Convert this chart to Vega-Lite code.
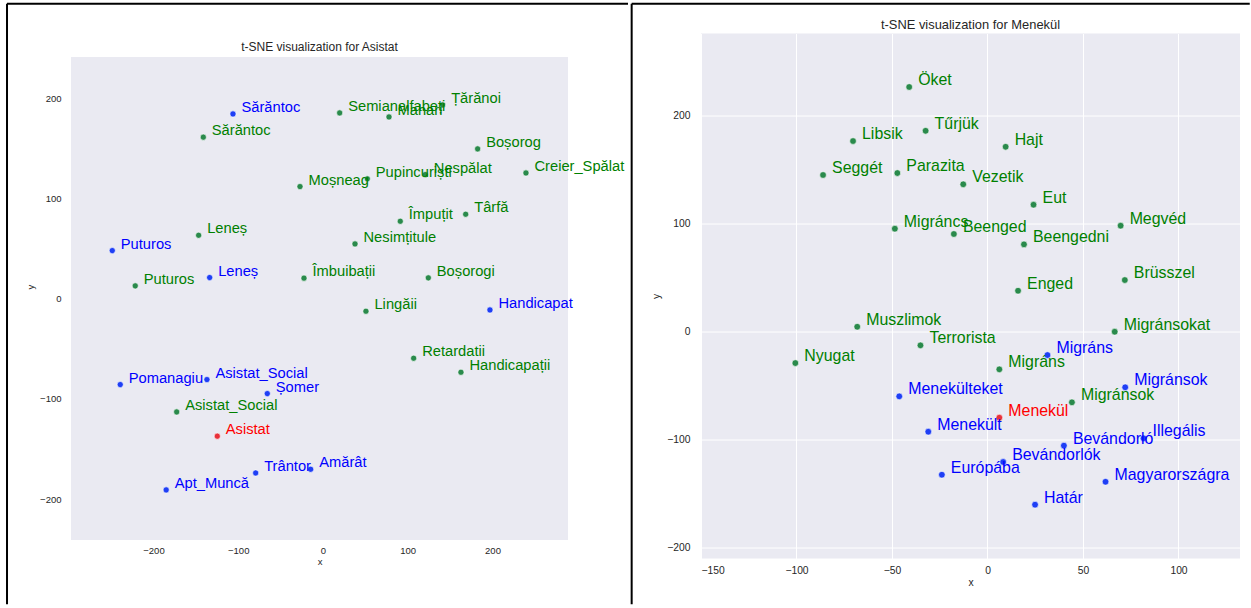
{
  "$schema": "https://vega.github.io/schema/vega-lite/v6.json",
  "background": "white",
  "padding": {"left": 6, "top": 2.5, "right": 0, "bottom": 0},
  "spacing": 0,
  "config": {
    "view": {"fill": "#EAEAF2", "stroke": null},
    "font": "Liberation Sans",
    "axis": {"domain": false, "ticks": false, "gridColor": "white", "gridWidth": 1, "labelColor": "#262626", "titleColor": "#262626", "titleFontWeight": "normal", "labelFont": "Liberation Sans", "titleFont": "Liberation Sans"}
  },
  "datasets": {
    "asistat": [
      {"label": "Sărăntoc", "group": "blue", "x": -106.2, "y": 184.3},
      {"label": "Semianalfabeți", "group": "green", "x": 19.7, "y": 185.3},
      {"label": "Mahari", "group": "green", "x": 77.9, "y": 181.3},
      {"label": "Țărănoi", "group": "green", "x": 141.2, "y": 193.3},
      {"label": "Sărăntoc", "group": "green", "x": -141.2, "y": 161.1},
      {"label": "Boșorog", "group": "green", "x": 182.5, "y": 149.4},
      {"label": "Moșneag", "group": "green", "x": -27.1, "y": 111.8},
      {"label": "Pupincuriști", "group": "green", "x": 52.3, "y": 119.5},
      {"label": "Nespălat", "group": "green", "x": 120.7, "y": 123.8},
      {"label": "Creier_Spălat", "group": "green", "x": 239.5, "y": 125.4},
      {"label": "Împuțit", "group": "green", "x": 91.2, "y": 77.2},
      {"label": "Târfă", "group": "green", "x": 168.4, "y": 84.2},
      {"label": "Leneș", "group": "green", "x": -146.7, "y": 63.2},
      {"label": "Nesimțitule", "group": "green", "x": 37.8, "y": 54.6},
      {"label": "Puturos", "group": "blue", "x": -248.6, "y": 47.9},
      {"label": "Puturos", "group": "green", "x": -221.5, "y": 12.7},
      {"label": "Leneș", "group": "blue", "x": -133.7, "y": 21},
      {"label": "Îmbuibații", "group": "green", "x": -22.4, "y": 20.4},
      {"label": "Boșorogi", "group": "green", "x": 124.3, "y": 20.7},
      {"label": "Handicapat", "group": "blue", "x": 197, "y": -11.3},
      {"label": "Lingăii", "group": "green", "x": 50.7, "y": -12.6},
      {"label": "Retardatii", "group": "green", "x": 107, "y": -59.5},
      {"label": "Handicapații", "group": "green", "x": 162.8, "y": -73.5},
      {"label": "Pomanagiu", "group": "blue", "x": -239.2, "y": -85.8},
      {"label": "Asistat_Social", "group": "blue", "x": -136.9, "y": -80.8},
      {"label": "Șomer", "group": "blue", "x": -65.7, "y": -94.8},
      {"label": "Asistat_Social", "group": "green", "x": -172.6, "y": -113.1},
      {"label": "Asistat", "group": "query", "x": -124.7, "y": -137.3},
      {"label": "Trântor", "group": "blue", "x": -79.4, "y": -174},
      {"label": "Amărât", "group": "blue", "x": -14.5, "y": -170.3},
      {"label": "Apt_Muncă", "group": "blue", "x": -185, "y": -190.9}
    ],
    "menekul": [
      {"label": "Öket", "group": "green", "x": -41.0, "y": 226.4},
      {"label": "Tűrjük", "group": "green", "x": -32.4, "y": 185.9},
      {"label": "Libsik", "group": "green", "x": -70.4, "y": 176.4},
      {"label": "Hajt", "group": "green", "x": 9.5, "y": 171.1},
      {"label": "Seggét", "group": "green", "x": -86.1, "y": 145.0},
      {"label": "Parazita", "group": "green", "x": -47.2, "y": 146.8},
      {"label": "Vezetik", "group": "green", "x": -12.7, "y": 136.4},
      {"label": "Eut", "group": "green", "x": 24.1, "y": 117.5},
      {"label": "Migráncs", "group": "green", "x": -48.5, "y": 95.3},
      {"label": "Beenged", "group": "green", "x": -17.6, "y": 90.4},
      {"label": "Beengedni", "group": "green", "x": 19.1, "y": 80.8},
      {"label": "Megvéd", "group": "green", "x": 69.7, "y": 98.1},
      {"label": "Brüsszel", "group": "green", "x": 71.9, "y": 47.8},
      {"label": "Enged", "group": "green", "x": 16, "y": 37.9},
      {"label": "Muszlimok", "group": "green", "x": -68.2, "y": 4.6},
      {"label": "Migránsokat", "group": "green", "x": 66.6, "y": 0},
      {"label": "Terrorista", "group": "green", "x": -35.1, "y": -12.6},
      {"label": "Nyugat", "group": "green", "x": -100.6, "y": -29.0},
      {"label": "Migráns", "group": "blue", "x": 31.4, "y": -21.6},
      {"label": "Migráns", "group": "green", "x": 6.2, "y": -34.8},
      {"label": "Migránsok", "group": "blue", "x": 72.1, "y": -51.4},
      {"label": "Menekülteket", "group": "blue", "x": -46.2, "y": -59.8},
      {"label": "Migránsok", "group": "green", "x": 44.2, "y": -65.3},
      {"label": "Menekül", "group": "query", "x": 6.2, "y": -79.5},
      {"label": "Menekült", "group": "blue", "x": -31, "y": -92.5},
      {"label": "Illegális", "group": "blue", "x": 81.7, "y": -98.6},
      {"label": "Bevándorló", "group": "blue", "x": 40, "y": -105.4},
      {"label": "Bevándorlók", "group": "blue", "x": 8.2, "y": -120.5},
      {"label": "Európába", "group": "blue", "x": -23.9, "y": -132.3},
      {"label": "Magyarországra", "group": "blue", "x": 61.8, "y": -138.8},
      {"label": "Határ", "group": "blue", "x": 24.9, "y": -160}
    ]
  },
  "hconcat": [
    {
      "width": 497,
      "height": 506.4,
      "layer": [
        {
          "data": {"values": [{}]},
          "mark": {"type": "rect", "fill": "white", "stroke": null},
          "encoding": {"x": {"datum": -298.8}, "x2": {"datum": 290.6}, "y": {"datum": 241.2}, "y2": {"datum": 266}}
        },
        {
          "data": {"name": "asistat"},
          "mark": {"type": "circle", "size": 38, "opacity": 1, "stroke": "white", "strokeWidth": 0.6},
          "encoding": {
            "x": {"field": "x", "type": "quantitative", "scale": {"domain": [-297.3, 289.1], "nice": false, "zero": false},
                  "axis": {"values": [-200, -100, 0, 100, 200], "title": "x", "labelFontSize": 9.5, "titleFontSize": 9.5, "labelPadding": 5.5, "titlePadding": 2}},
            "y": {"field": "y", "type": "quantitative", "scale": {"domain": [-240.8, 264.55], "nice": false, "zero": false},
                  "axis": {"values": [-200, -100, 0, 100, 200], "title": "y", "labelFontSize": 9.5, "titleFontSize": 9.5, "labelPadding": 10, "titlePadding": 4}},
            "fill": {"field": "group", "type": "nominal", "scale": {"domain": ["blue", "green", "query"], "range": ["#1f3ff5", "#2a8a4c", "#e8303a"]}, "legend": null}
          }
        },
        {
          "data": {"name": "asistat"},
          "mark": {"type": "text", "align": "left", "baseline": "alphabetic", "dx": 8.5, "dy": -2, "fontSize": 14.7},
          "encoding": {
            "x": {"field": "x", "type": "quantitative"},
            "y": {"field": "y", "type": "quantitative"},
            "text": {"field": "label"},
            "color": {"field": "group", "type": "nominal", "scale": {"domain": ["blue", "green", "query"], "range": ["#0000ff", "#008000", "#ff0000"]}, "legend": null}
          }
        },
        {
          "data": {"values": [{"title": "t-SNE visualization for Asistat"}]},
          "mark": {"type": "text", "align": "center", "baseline": "middle", "fontSize": 12, "color": "#262626"},
          "encoding": {"x": {"datum": -4.1}, "y": {"datum": 251.2}, "text": {"field": "title"}}
        },
        {
          "data": {"values": [{}]},
          "mark": {"type": "rule", "color": "black", "strokeWidth": 2},
          "encoding": {"x": {"datum": -372.8}, "y": {"datum": 294.3}, "y2": {"datum": -305}}
        },
        {
          "data": {"values": [{}]},
          "mark": {"type": "rule", "color": "black", "strokeWidth": 2},
          "encoding": {"x": {"datum": -372.8}, "x2": {"datum": 359.9}, "y": {"datum": 294.3}}
        }
      ]
    },
    {
      "width": 539,
      "height": 525,
      "layer": [
        {
          "data": {"name": "menekul"},
          "mark": {"type": "circle", "size": 45, "opacity": 1, "stroke": "white", "strokeWidth": 0.6},
          "encoding": {
            "x": {"field": "x", "type": "quantitative", "scale": {"domain": [-150, 132.2], "nice": false, "zero": false},
                  "axis": {"values": [-150, -100, -50, 0, 50, 100], "title": "x", "labelFontSize": 10.3, "titleFontSize": 10.3, "labelPadding": 7, "titlePadding": 2}},
            "y": {"field": "y", "type": "quantitative", "scale": {"domain": [-209.8, 275.9], "nice": false, "zero": false},
                  "axis": {"values": [-200, -100, 0, 100, 200], "title": "y", "labelFontSize": 10.3, "titleFontSize": 10.3, "labelPadding": 11, "titlePadding": 5}},
            "fill": {"field": "group", "type": "nominal", "scale": {"domain": ["blue", "green", "query"], "range": ["#1f3ff5", "#2a8a4c", "#e8303a"]}, "legend": null}
          }
        },
        {
          "data": {"name": "menekul"},
          "mark": {"type": "text", "align": "left", "baseline": "alphabetic", "dx": 9, "dy": -2, "fontSize": 15.9},
          "encoding": {
            "x": {"field": "x", "type": "quantitative"},
            "y": {"field": "y", "type": "quantitative"},
            "text": {"field": "label"},
            "color": {"field": "group", "type": "nominal", "scale": {"domain": ["blue", "green", "query"], "range": ["#0000ff", "#008000", "#ff0000"]}, "legend": null}
          }
        },
        {
          "data": {"values": [{"title": "t-SNE visualization for Menekül"}]},
          "mark": {"type": "text", "align": "center", "baseline": "middle", "fontSize": 12.9, "color": "#262626"},
          "encoding": {"x": {"datum": -8.9}, "y": {"datum": 283.6}, "text": {"field": "title"}}
        },
        {
          "data": {"values": [{}]},
          "mark": {"type": "rule", "color": "black", "strokeWidth": 2},
          "encoding": {"x": {"datum": -186.3}, "y": {"datum": 303.5}, "y2": {"datum": -252.1}}
        },
        {
          "data": {"values": [{}]},
          "mark": {"type": "rule", "color": "black", "strokeWidth": 2},
          "encoding": {"x": {"datum": -186.3}, "x2": {"datum": 137.3}, "y": {"datum": 303.5}}
        }
      ]
    }
  ]
}
